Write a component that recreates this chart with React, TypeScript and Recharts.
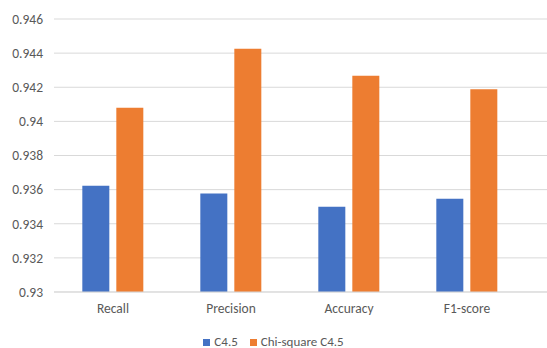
import { BarChart, Bar, XAxis, YAxis, CartesianGrid, Legend } from 'recharts'

const categories = ['Recall', 'Precision', 'Accuracy', 'F1-score']
const c45 = [0.93623, 0.93578, 0.935, 0.93547]
const chiC45 = [0.9408, 0.94426, 0.94268, 0.94189]
const yTicks = [0.93, 0.932, 0.934, 0.936, 0.938, 0.94, 0.942, 0.944, 0.946]

const data = categories.map((name, i) => ({ name, c45: c45[i], chi: chiC45[i] }))

const font = 'Carlito, Calibri, "Open Sans", sans-serif'

function CustomLegend({ payload }: { payload?: Array<{ value: string; color: string }> }) {
  if (!payload?.length) return null
  return (
    <div style={{
      display: 'flex', gap: 12, justifyContent: 'center', fontFamily: font,
      fontSize: 13, color: '#595959', position: 'relative', top: 6, lineHeight: '16px',
    }}>
      {payload.map(p => (
        <span key={p.value} style={{ display: 'flex', alignItems: 'center', gap: 4 }}>
          <span style={{ width: 7, height: 7, background: p.color, display: 'inline-block' }} />
          {p.value}
        </span>
      ))}
    </div>
  )
}

export default function App() {
  return (
    <div style={{ position: 'absolute', left: 0, top: 0, background: '#fff' }}>
      <BarChart
        width={547}
        height={348}
        data={data}
        margin={{ top: 19, right: 0, bottom: 0, left: 0 }}
        barCategoryGap="24%"
        barGap={7}
      >
        <CartesianGrid vertical={false} stroke="#D9D9D9" />
        <XAxis
          dataKey="name"
          axisLine={{ stroke: '#D9D9D9' }}
          tickLine={false}
          tickSize={0}
          tickMargin={11}
          padding={{ left: 0, right: 21 }}
          height={36}
          tick={{ fontSize: 13.5, fill: '#595959', fontFamily: font }}
        />
        <YAxis
          domain={[0.93, 0.946]}
          ticks={yTicks}
          interval={0}
          axisLine={false}
          tickLine={false}
          tickSize={0}
          tickMargin={11}
          width={54}
          allowDataOverflow
          tick={{ fontSize: 13.5, fill: '#595959', fontFamily: font }}
        />
        <Legend content={<CustomLegend />} verticalAlign="bottom" height={20} />
        <Bar dataKey="c45" name="C4.5" fill="#4472C4" isAnimationActive={false} />
        <Bar dataKey="chi" name="Chi-square C4.5" fill="#ED7D31" isAnimationActive={false} />
      </BarChart>
    </div>
  )
}
